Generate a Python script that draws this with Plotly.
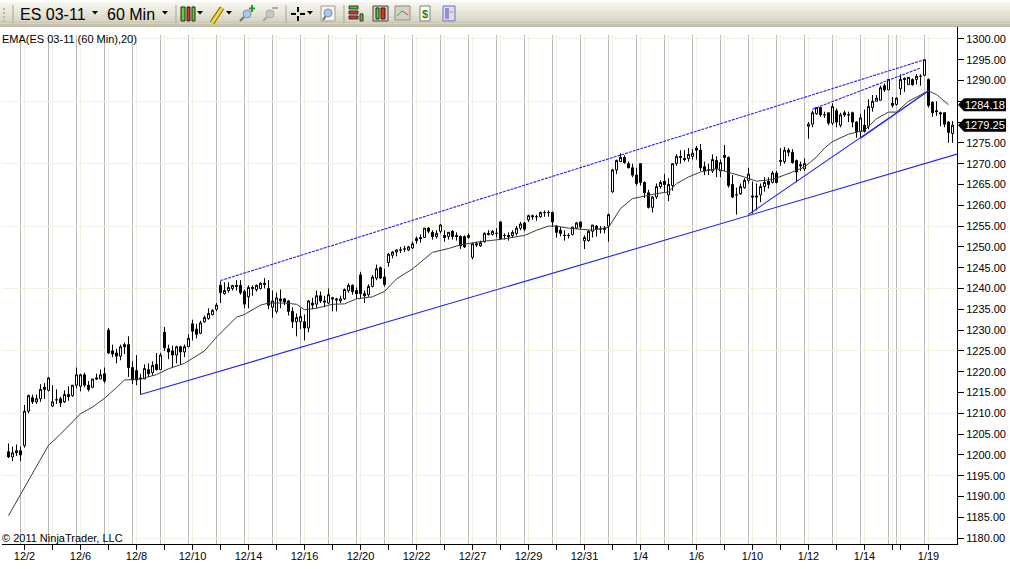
import plotly.graph_objects as go

W, H = 1010, 569

opens = [1200.75,1199.5,1201,1201,1202.25,1210.5,1213.75,1212.75,1213.5,1216.25,
1215.5,1211.75,1213.25,1213.5,1212.75,1214.5,1214.25,1216.75,1216.5,1219.25,
1216.75,1216.25,1218.5,1218.25,1219.5,1230,1225,1224.5,1223.75,1226.5,
1226.5,1221,1220.25,1218.5,1218.25,1220.5,1219.75,1221.75,1220.5,1229.5,
1225.5,1225,1224,1226,1224.75,1226,1231.5,1230.25,1229.25,1232,
1232.75,1233.75,1235,1240.75,1238.75,1239.5,1240,1240.75,1240.75,1239.25,
1238,1240.25,1239.75,1240,1241.25,1240,1235.5,1234.5,1237.5,1237.5,
1237,1234.5,1232,1232,1232,1230.5,1236.5,1236.25,1238.25,1237,
1236.5,1237.75,1237.5,1237,1237.5,1239.5,1240.75,1239.5,1243.25,1238.75,
1238.5,1240.5,1242.5,1245,1242.75,1246.25,1248,1248.75,1249.25,1249.5,
1249.25,1249.75,1252,1252.25,1252.25,1254.5,1253.5,1252.5,1253.75,1252.75,
1252.5,1253.75,1252.75,1252.5,1252.5,1252.25,1247.5,1250.75,1250.25,1251.25,
1253.25,1253,1253.25,1256,1252.75,1252.75,1252.75,1253.25,1254.5,1255.75,
1256.5,1257.5,1257.25,1257.25,1258.25,1258.25,1258.25,1255,1254,1252.75,
1252.75,1253,1254.5,1256,1251.5,1251.5,1253.75,1255,1254.25,1254.5,
1255,1263.25,1268.5,1270.5,1271.5,1270,1269,1267.25,1270,1265.5,
1263,1259.5,1262,1264.5,1265.75,1262.5,1264.75,1270,1271.75,1271.25,
1271.25,1271.75,1273.75,1273.25,1269.25,1268.5,1268.25,1270.75,1268.25,1272,
1271.5,1265,1262.5,1262.75,1264.25,1266,1262.25,1262.25,1262.5,1264.5,
1265.75,1265.5,1267.75,1270.5,1270.5,1273.25,1272.75,1270.75,1269.75,1268.75,
1279,1279.5,1282,1283.5,1281.75,1282.25,1279.75,1282.75,1279.25,1282.25,
1281.75,1282.25,1280,1277.75,1279.25,1279,1283.5,1285,1285.25,1288.75,
1287.75,1284.5,1284.25,1288,1290.5,1289,1290.25,1290.25,1291,1291.25,
1290.25,1284.75,1282.75,1282.25,1282.25,1280,1277.25]

highs = [1202.75,1202,1202.5,1202,1212,1214.5,1214.5,1214.5,1217,1217.25,
1218.75,1216.75,1215.75,1214,1215.5,1216.5,1216.75,1221,1219.5,1219.75,
1217.75,1218.25,1219.5,1220.5,1221,1230.5,1226.5,1225.5,1226.5,1227,
1228.5,1222.5,1224,1219.5,1221.75,1222,1222.5,1224.5,1224.5,1230.75,
1226.5,1226.25,1226.25,1226.25,1226.5,1229,1232.5,1231.5,1232.25,1233.5,
1235.25,1235,1236.5,1241.75,1241.5,1241.5,1240.75,1242,1242,1239.75,
1240.75,1240.75,1241,1241.5,1242.5,1242,1239.5,1239,1239.75,1237.75,
1237.25,1235.5,1234,1235.25,1233.75,1237.25,1237.75,1239.5,1239.25,1238.25,
1240,1238,1237.75,1238.25,1240,1241.25,1241,1240.25,1244,1239.5,
1241,1243.25,1245.75,1245.25,1244.75,1248.5,1249,1249.5,1250,1250.25,
1250.25,1251.25,1252.5,1253,1254.5,1254.75,1254,1254,1255.5,1254,
1253.5,1254,1253.5,1252.75,1252.75,1253.25,1251,1251.25,1251.5,1253.5,
1254,1254,1254.5,1256.25,1253.25,1253.5,1254,1255,1256,1256,
1257.75,1257.75,1257.75,1258.5,1258.75,1258.75,1258.5,1255.25,1254.75,1254,
1253.25,1254.75,1256,1256,1252.75,1254,1255.25,1255.25,1255,1255,
1258,1268.75,1271,1272.5,1272,1270.5,1270,1269,1270,1265.75,
1263.75,1262.25,1265.25,1266,1267.5,1266.5,1270,1272.25,1273.25,1273.25,
1273.75,1273.5,1274.25,1274.75,1270.5,1270,1272.25,1271.75,1271,1274.5,
1271.75,1267.25,1264.25,1265.25,1266.5,1269,1265.75,1265.25,1265.25,1266.75,
1266.75,1268.25,1268.25,1273.75,1274,1273.75,1273.5,1271,1270.5,1271.25,
1280,1282.75,1283.5,1283.5,1282.5,1282.25,1284.5,1283.25,1282.25,1282.75,
1282.5,1282.5,1280.25,1282,1283,1285.5,1286.5,1286.5,1288.75,1289.25,
1290.25,1286,1286,1291.5,1290.75,1290.75,1290.5,1291.5,1291.5,1295,
1290.5,1285,1285,1282.5,1282.25,1280.25,1280.25]

lows = [1199.25,1198.5,1199.75,1198.5,1201.75,1210,1212.25,1212.25,1212.75,1213.5,
1215.25,1211.5,1212.25,1211.5,1212.5,1213,1214,1216,1215.25,1216.25,
1215.25,1216,1218,1218.25,1217.25,1224.25,1223.5,1222,1222.75,1224.25,
1218.75,1217,1216.75,1214.5,1218.25,1218.75,1219,1220.25,1220.5,1225,
1223,1221,1222,1221.75,1223.5,1226,1227.5,1228,1229,1231.75,
1232.5,1233.5,1234.5,1236.5,1238.5,1239,1239.5,1239.5,1238.5,1235.25,
1235.25,1238.25,1239.25,1239.75,1240,1235,1233,1234,1235.25,1236,
1233.5,1230.5,1228.5,1230.25,1227.5,1229.5,1235,1235.25,1236.5,1235.5,
1236.25,1234.5,1234.5,1236.5,1237.25,1239,1238.5,1237.5,1237.5,1236.5,
1238,1240.25,1242,1242.25,1240.5,1245.25,1247.25,1247.75,1248.5,1248.75,
1249,1249.5,1250.75,1251,1252.25,1253.25,1251.75,1252,1253.25,1251.25,
1251.75,1251.75,1251.5,1249.5,1249.75,1252,1247,1250,1250,1251,
1252.75,1252.75,1252.25,1251.75,1251.75,1251.5,1252.25,1252.75,1254,1253.75,
1256,1256.5,1256.25,1257,1257.25,1257.25,1254.75,1252.25,1252.5,1251.5,
1252,1252.75,1254.25,1254.25,1249.5,1251.25,1252.25,1252.5,1253.25,1253.25,
1251.25,1263,1267.5,1270.5,1270,1269,1266.75,1264.75,1264.75,1261.75,
1259.25,1258.25,1261.5,1264,1263,1261,1263.5,1269.5,1270,1270.5,
1270.5,1271,1271,1268.25,1267.25,1267.25,1267.75,1266.75,1266.75,1268.25,
1264.25,1261.75,1257.75,1262.5,1264,1265.25,1258,1258.75,1260.75,1263.25,
1264,1265.25,1265.25,1269.5,1270,1271.75,1270,1265.5,1268.25,1268.25,
1276,1278.75,1281.75,1281.25,1281,1279.25,1279.25,1278.75,1278.75,1281.25,
1280,1278.75,1276.25,1276.25,1277.5,1278.25,1282.5,1285,1285.25,1287.25,
1287.75,1283.5,1284,1286.5,1287.25,1289,1288.75,1289,1288.75,1291,
1283.5,1281.25,1281.5,1279,1278.75,1275,1275]

closes = [1199.5,1200.5,1200.5,1200,1210.5,1214.25,1212.75,1213.5,1215.75,1215.75,
1218.5,1212.75,1213.25,1212.5,1214.5,1214,1216.75,1219.25,1219.25,1216.75,
1215.75,1218.25,1218.25,1219.25,1217.75,1224.5,1224.25,1223.75,1226,1226,
1221,1218,1218,1218.25,1220.75,1219.5,1221.5,1220.5,1224,1225.75,
1224.75,1224,1226,1224.75,1226,1228,1229.75,1229,1231.75,1233,
1234,1234.75,1236,1239,1239.5,1240.25,1240.75,1240.5,1239,1236.25,
1240.25,1240,1240.75,1241.25,1241,1236,1237,1237.75,1237,1236.75,
1234.5,1232,1233,1233.25,1230.5,1237,1236,1238.25,1237,1236.75,
1238.5,1237.5,1237.25,1237.5,1239.75,1240.75,1239.25,1238.75,1238.75,1238.25,
1240.5,1242.75,1244.75,1242.5,1241,1248.25,1248.75,1249.25,1249.25,1249.5,
1250,1250.75,1251.5,1252,1254.5,1253.75,1252.5,1253.25,1255.25,1252.25,
1253.5,1252.5,1252.5,1250.25,1250,1252.75,1250.75,1250.5,1251,1253.25,
1253,1253.75,1253.25,1252,1252.75,1252.5,1253.5,1254.5,1255.5,1254.25,
1257.5,1257.25,1257.25,1258.25,1258.25,1258.25,1256,1253.5,1253.25,1252.75,
1252.75,1254.75,1255.75,1254.75,1252.25,1253.75,1255.25,1254.25,1254.25,1254.25,
1257.75,1268.5,1270.75,1271.5,1270.25,1269,1267.25,1265.25,1265.5,1263,
1259.5,1262,1264.5,1265.5,1265,1265,1270,1271.75,1271.5,1271,
1272.25,1272.5,1273.25,1269,1268.25,1268.5,1271,1268.75,1270.25,1271.5,
1264.75,1262,1262.5,1264.5,1266,1267.5,1262,1262,1264.5,1265.5,
1265,1267.75,1265.5,1270.75,1273.25,1272.75,1270.25,1268,1269.5,1270,
1279.5,1282.25,1283.5,1281.75,1281.75,1279.75,1283.75,1280,1281.75,1281.75,
1281.75,1280,1277.75,1281,1277.75,1283.75,1285,1285.75,1288.25,1287.75,
1290.25,1284,1285.75,1290.25,1290.25,1290.75,1289,1291,1291,1295,
1284,1282.25,1282.5,1282,1279.5,1277.5,1279.25]

bars = list(range(len(opens)))

ema_bars = [0,5,10,13,18,21,24,27,29,33,37,40,44,49,52,57,59,63,65,69,72,74,77,81,84,87,91,94,97,
            101,106,110,113,118,123,129,132,135,137,140,143,146,150,153,156,160,162,165,167,170,
            173,177,180,184,187,191,196,199,202,204,206,210,214,217,220,222,225,230,232,235]
ema_values = [1185.4,1193.8,1202.3,1205,1209.9,1211.5,1213.6,1216.2,1218,1218.25,1219.3,1220.7,1222,1225,1228.3,
              1233.1,1233.75,1236,1236.5,1236.5,1236.2,1234.9,1235.25,1236.2,1236.3,1237.5,1238,1239.3,1242.3,
              1244.7,1248.7,1249.6,1250.5,1251.25,1251.8,1252.75,1254,1255,1255,1254.5,1254.25,1254,1254.7,
              1259.2,1261.6,1262.4,1262.8,1263.2,1265.2,1266.8,1268,1268.8,1268,1266.8,1265.8,1266.2,1268,
              1269.2,1271.6,1273.75,1275.3,1277.1,1278,1280.8,1282.4,1282.4,1285,1287.5,1286.6,1284.18]

price_ticks = list(range(1180, 1301, 5))
price_labels = ["1180.00","1185.00","1190.00","1195.00","1200.00","1205.00","1210.00","1215.00","1220.00","1225.00",
                "1230.00","1235.00","1240.00","1245.00","1250.00","1255.00","1260.00","1265.00","1270.00","1275.00",
                "","","1290.00","1295.00","1300.00"]
grid_prices = list(range(1180, 1301, 15))
date_bars = [4,11,18,25,32,39,46,53,60,67,74,81,88,95,102,109,116,123,130,137,144,151,158,165,172,179,186,193,200,207,214,221,223,230]
date_labels = ["12/2","","12/6","","12/8","","12/10","","12/14","","12/16","","12/20","","12/22","","12/27","","12/29","","12/31","",
               "1/4","","1/6","","1/10","","1/12","","1/14","","","1/19"]
session_bars = [3,10,17,24,31,38,45,52,59,66,73,80,87,94,101,108,115,122,129,136,143,150,157,164,171,178,185,192,199,206,213,220,222,229]

lower_bars, lower_prices = [33, 237.125], [1214.5, 1272.3]
upper_bars, upper_prices = [53, 229], [1241.9, 1295]
inner_bars, inner_prices = [201, 228], [1283.1, 1293]
rise_bars, rise_prices = [185, 230], [1257.8, 1287.5]
rise2_bars, rise2_prices = [213, 230], [1276.1, 1287.5]

flag_prices = [1284.18, 1279.25]
flag_labels = ["1284.18", "1279.25"]

BLUE = "rgb(35,35,240)"
fig = go.Figure()
fig.add_trace(go.Candlestick(x=bars, open=opens, high=highs, low=lows, close=closes, whiskerwidth=0,
    increasing=dict(line=dict(color="black", width=1), fillcolor="white"),
    decreasing=dict(line=dict(color="black", width=1), fillcolor="black"), showlegend=False))
fig.add_trace(go.Scatter(x=ema_bars, y=ema_values, mode="lines", line=dict(color="#3c3c3c", width=1), showlegend=False))
for xs, ys, dash in [(lower_bars, lower_prices, "solid"), (rise_bars, rise_prices, "solid"), (rise2_bars, rise2_prices, "solid"),
                     (upper_bars, upper_prices, "3px,1px"), (inner_bars, inner_prices, "3px,1px")]:
    fig.add_trace(go.Scatter(x=xs, y=ys, mode="lines", line=dict(color=BLUE, width=1.1, dash=dash), showlegend=False))

shapes, annos = [], []
def R(x0, y0, x1, y1, fill, line=None, lw=1, layer="above"):
    shapes.append(dict(type="rect", xref="paper", yref="paper", x0=x0/W, x1=x1/W, y0=1-y0/H, y1=1-y1/H,
                       fillcolor=fill, line=dict(color=line or fill, width=lw if line else 0), layer=layer))
def L(x0, y0, x1, y1, col, lw=1):
    shapes.append(dict(type="line", xref="paper", yref="paper", x0=x0/W, x1=x1/W, y0=1-y0/H, y1=1-y1/H,
                       line=dict(color=col, width=lw), layer="above"))
def P(pts, fill):
    path = "M" + " L".join(f"{x/W:.5f},{1-y/H:.5f}" for x, y in pts) + " Z"
    shapes.append(dict(type="path", xref="paper", yref="paper", path=path, fillcolor=fill, line=dict(width=0), layer="above"))
def C(cx, cy, r, fill, line):
    shapes.append(dict(type="circle", xref="paper", yref="paper", x0=(cx-r)/W, x1=(cx+r)/W, y0=1-(cy+r)/H, y1=1-(cy-r)/H,
                       fillcolor=fill, line=dict(color=line, width=1), layer="above"))
def T(x, y, s, size, col="black", anchor="left"):
    annos.append(dict(x=x/W, y=1-y/H, xref="paper", yref="paper", text=s, showarrow=False, xanchor=anchor, yanchor="middle",
                      font=dict(family="Liberation Sans", size=size, color=col), borderpad=0, borderwidth=0))
def V(x, y):
    P([(x-3, y-2), (x+3, y-2), (x, y+1.5)], "#000000")

# toolbar gradient
grad = ["#f6f5ee","#f3f2e9","#f0efe5","#edece1","#eae9dd","#e7e6d9","#e4e3d5","#e1e0d1","#dedccc","#dad8c7","#d6d4c2","#d1cfbc","#cbc9b5","#c4c2ad","#b9b7a2"]
n = len(grad)
for k, c in enumerate(grad):
    R(0, k*25/n, W, (k+1)*25/n, c)
for y in (6, 10, 14, 18):
    R(3, y, 5, y+2, "#b9b7a2")
for x in (13, 176, 286, 344):
    L(x, 3, x, 21, "#a8a694", 1)
T(20, 12.5, "ES 03-11", 16)
V(95, 11)
T(107, 12.5, "60 Min", 16)
V(165, 11)
# candle icon
R(181, 5, 185, 19, "#62d020", "#222")
R(187, 5, 190, 19, "#e83020", "#222")
R(192, 5, 195, 19, "#62d020", "#222")
V(200, 11)
# pencil
L(212, 21, 222, 6, "#806010", 5)
L(212, 21, 222, 6, "#f8d838", 3)
V(229, 11)
# zoom in
L(240, 19, 244, 15, "#707070", 2)
C(247, 12, 4, "#a8c8f0", "#8090a8")
L(252, 3, 252, 10, "#20a020", 2)
L(249, 6.5, 255, 6.5, "#20a020", 2)
# zoom out
L(263, 19, 267, 15, "#a8a8a8", 2)
C(270, 12, 4, "#c8c8c8", "#a8a8a8")
L(272, 6, 278, 6, "#a8a8a8", 2)
# crosshair
L(291, 12, 296, 12, "#000", 2)
L(300, 12, 305, 12, "#000", 2)
L(298, 5, 298, 10, "#000", 2)
L(298, 14, 298, 19, "#000", 2)
V(310, 11)
# zoom box
R(321, 4, 335, 19, "#f4f4f0", "#a0a090")
L(323, 18, 326, 14, "#707070", 2)
C(328, 11, 4, "#a8c8f0", "#8090a8")
# indicator icons
R(349, 4, 358, 7, "#58c020", "#333")
R(349, 9, 358, 12, "#e03020", "#333")
R(349, 14, 358, 17, "#e03020", "#333")
R(360, 12, 363, 19, "#58c020", "#333")
R(373, 4, 388, 19, "#d8d4c4", "#444")
R(376, 6, 379, 17, "#62d020", "#222")
R(381, 6, 385, 17, "#e83020", "#222")
R(395, 4, 410, 18, "#d4d2c4", "#909080")
L(397, 14, 402, 9, "#40a040", 1)
L(402, 9, 408, 13, "#d04040", 1)
R(420, 4, 430, 19, "#ffffff", "#808078")
annos.append(dict(x=425/W, y=1-12/H, xref="paper", yref="paper", text="<b>$</b>", showarrow=False, xanchor="center", yanchor="middle",
                  font=dict(family="Liberation Sans", size=11, color="#208030")))
R(443, 4, 455, 19, "#dcdcf0", "#7070c0")
R(445, 6, 449, 17, "#9090d8")
R(450, 9, 453, 11, "#e8b070")

# right axis stub above the plot area
L(957.5, 25, 957.5, 33, "black", 1)
T(2, 37, "EMA(ES 03-11 (60 Min),20)", 11)
T(2, 537.5, "© 2011 NinjaTrader, LLC", 11)

for p, s in zip(flag_prices, flag_labels):
    shapes.append(dict(type="path", xref="paper", yref="y", ysizemode="pixel", yanchor=p,
                       path=f"M{958/W:.5f},0 L{964/W:.5f},6.5 L{1006/W:.5f},6.5 L{1006/W:.5f},-6.5 L{964/W:.5f},-6.5 Z",
                       fillcolor="black", line=dict(width=0), layer="above"))
    annos.append(dict(x=985/W, y=p, xref="paper", yref="y", text=s, showarrow=False, xanchor="center", yanchor="middle",
                      font=dict(family="Liberation Sans", size=11, color="white")))

fig.update_layout(
    width=W, height=H, autosize=False, margin=dict(l=0, r=0, t=0, b=0, pad=0),
    paper_bgcolor="white", plot_bgcolor="white", showlegend=False, boxgap=0.28,
    font=dict(family="Liberation Sans", size=11, color="black"),
    shapes=shapes, annotations=annos,
    xaxis=dict(domain=[2/W, 957/W], range=[-1.625, 237.125], rangeslider=dict(visible=False),
               tickmode="array", tickvals=date_bars, ticktext=date_labels, ticks="outside", ticklen=5, tickcolor="black",
               tickfont=dict(size=11), showgrid=True, gridcolor="#f1f0e2", gridwidth=1, ticklabelstandoff=-3,
               showline=True, linecolor="black", linewidth=1, zeroline=False, anchor="y",
               minor=dict(tickmode="array", tickvals=session_bars, showgrid=True, gridcolor="#b8b8b8", gridwidth=1, ticks="")),
    yaxis=dict(domain=[1-544/H, 1-33/H], range=[1178.56, 1300.96], side="right", anchor="x",
               tickmode="array", tickvals=price_ticks, ticktext=price_labels, ticks="outside", ticklen=6, tickcolor="black",
               tickfont=dict(size=11), showgrid=False, showline=True, linecolor="black", linewidth=1, zeroline=False,
               minor=dict(tickmode="array", tickvals=[g + 0.001 for g in grid_prices], showgrid=True, gridcolor="#f1f0e2", gridwidth=1, ticks="")),
)
fig.write_html("out.html", config=dict(displayModeBar=False),
               post_script="document.body.style.margin='0';document.documentElement.style.overflow='hidden';")
